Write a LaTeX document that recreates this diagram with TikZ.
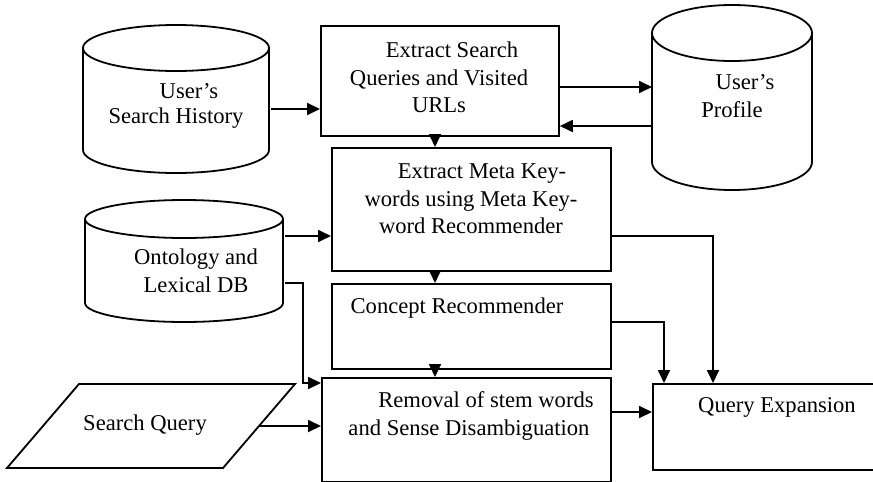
\documentclass[tikz,border=0pt]{standalone}
\usepackage{fontspec}
\setmainfont{Liberation Serif}
\usetikzlibrary{arrows.meta,calc}
\begin{document}
\begin{tikzpicture}[x=1pt,y=-1pt,
  line width=1.8pt,
  box/.style={draw,rectangle,inner sep=0pt,anchor=north west},
  area/.style={rectangle,inner sep=0pt,anchor=north west},
  txt/.style={align=center,font=\fontsize{22.6}{27.5}\selectfont,inner sep=0pt},
  arr/.style={-{Triangle[length=13pt,width=12pt]}},
]
\clip (0,0) rectangle (873,482);
\useasboundingbox (0,0) rectangle (873,482);

% cylinders (named areas + outlines)
\node[area,minimum width=186pt,minimum height=148pt] (c1) at (83,25) {};
\draw (176,48) ellipse [x radius=93, y radius=23];
\draw (83,48) -- (83,150) arc[start angle=180,end angle=0,x radius=93,y radius=23] -- (269,48);

\node[area,minimum width=160pt,minimum height=185pt] (c2) at (652,5) {};
\draw (732,33) ellipse [x radius=80, y radius=28];
\draw (652,33) -- (652,162) arc[start angle=180,end angle=0,x radius=80,y radius=28] -- (812,33);

\node[area,minimum width=198pt,minimum height=122pt] (c3) at (85,200) {};
\draw (184,219) ellipse [x radius=99, y radius=19];
\draw (85,219) -- (85,303) arc[start angle=180,end angle=0,x radius=99,y radius=19] -- (283,219);

% parallelogram
\draw (79,384) -- (295,384) -- (223,468) -- (7,468) -- cycle;
\coordinate (sqr) at (259,426);

% boxes
\node[box,minimum width=238pt,minimum height=110pt] (b1) at (320,25) {};
\node[box,minimum width=279pt,minimum height=123pt] (b2) at (331,147) {};
\node[box,minimum width=279pt,minimum height=85pt] (b3) at (331,283) {};
\node[box,minimum width=289pt,minimum height=104pt] (b4) at (321,377) {};
\node[box,minimum width=240pt,minimum height=86pt] (qe) at (652,383) {};

% texts
\node[txt] (t1a) at (189,91) {User’s};
\node[txt] (t1b) at (176,118) {Search History};
\node[txt] (t2a) at (745,82) {User’s};
\node[txt] (t2b) at (732,110) {Profile};
\node[txt] (t3) at (196,271) {Ontology and\\Lexical DB};
\node[txt] (tsq) at (145,425) {Search Query};
\node[txt] (tb1) at (439,77.5) {\hspace*{26pt}Extract Search\\Queries and Visited\\URLs};
\node[txt] (tb2) at (471,199) {\hspace*{22pt}Extract Meta Key-\\words using Meta Key-\\word Recommender};
\node[txt] (tb3) at (457,308) {Concept Recommender};
\node[txt] (tb4) at (469,416) {\hspace*{34pt}Removal of stem words\\and Sense Disambiguation};
\node[txt] (tqe) at (777,407) {Query Expansion};

% connectors
\draw[arr] (c1.east |- 0,109) -- (b1.west |- 0,109);
\draw[arr] (b1.east |- 0,87) -- (c2.west |- 0,87);
\draw[arr] (c2.west |- 0,126) -- (b1.east |- 0,126);
\draw[arr] (b1.south -| 435,0) -- (b2.north -| 435,0);
\draw[arr] (b2.south -| 435,0) -- (b3.north -| 435,0);
\draw[arr] (b3.south -| 435,0) -- (b4.north -| 435,0);
\draw[arr] (c3.east |- 0,236) -- (b2.west |- 0,236);
\draw[arr] (c3.east |- 0,283) -- (303,283) -- (303,383) -- (b4.west |- 0,383);
\draw[arr] (b2.east |- 0,236) -- (713,236) -- (qe.north -| 713,0);
\draw[arr] (b3.east |- 0,322) -- (664,322) -- (qe.north -| 664,0);
\draw[arr] (b4.east |- 0,412) -- (qe.west |- 0,412);
\draw[arr] (sqr) -- (b4.west |- 0,426);
\end{tikzpicture}
\end{document}
